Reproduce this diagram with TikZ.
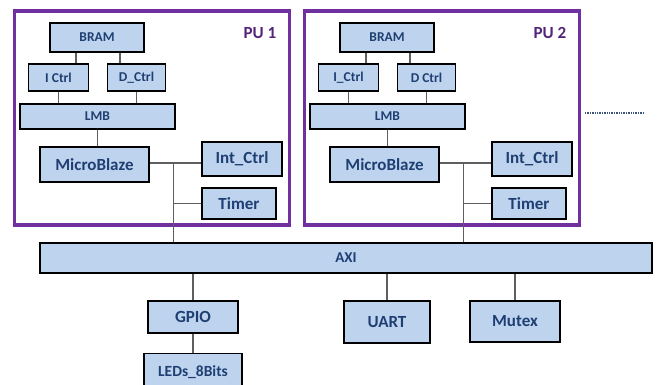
\documentclass[tikz,border=0pt]{standalone}
\usepackage{fontspec}
\setmainfont{Carlito}
\usetikzlibrary{positioning}
\definecolor{boxfill}{HTML}{BED4EE}
\definecolor{boxtext}{HTML}{1F3F73}
\definecolor{pupurple}{HTML}{7030A0}
\definecolor{wiregray}{HTML}{5F5F5F}

\begin{document}
\begin{tikzpicture}[x=1pt,y=-1pt]
  \tikzstyle{box}=[draw,line width=1.6pt,fill=boxfill,text=boxtext,inner sep=0pt]
  \tikzstyle{small}=[box,font=\fontsize{13.5}{14}\selectfont\bfseries]
  \tikzstyle{big}=[box,font=\fontsize{17}{18}\selectfont\bfseries]
  \tikzstyle{pu}=[draw=pupurple,line width=3.8pt]
  \tikzstyle{pulabel}=[text=pupurple!75!black,font=\fontsize{17}{18}\selectfont\bfseries]
  \tikzstyle{wire}=[draw=wiregray,line width=1.1pt]
  \clip (0,0) rectangle (659,385);
  % processing unit 1
  \draw[pu] (14.5,11.3) rectangle (289.5,225);
  \node[pulabel] (pu1) at (260,33) {PU 1};
  \node[small,minimum width=94pt,minimum height=29pt] (bram1) at (97,37.5) {BRAM};
  \node[small,minimum width=60pt,minimum height=27pt] (ic1) at (58.5,77.5) {I Ctrl};
  \node[small,minimum width=58pt,minimum height=27pt] (dc1) at (136.5,77.5) {D\_Ctrl};
  \node[small,minimum width=155pt,minimum height=25pt] (lmb1) at (97.5,116.5) {LMB};
  \node[big,minimum width=109pt,minimum height=35pt] (mb1) at (94.5,164.5) {MicroBlaze};
  \node[big,minimum width=80pt,minimum height=34pt] (int1) at (242,159) {Int\_Ctrl};
  \node[big,minimum width=74pt,minimum height=31pt] (tim1) at (239,203.5) {Timer};
  % processing unit 2
  \draw[pu] (304.5,11.3) rectangle (579.5,225);
  \node[pulabel] (pu2) at (550,33) {PU 2};
  \node[small,minimum width=94pt,minimum height=29pt] (bram2) at (387,37.5) {BRAM};
  \node[small,minimum width=60pt,minimum height=27pt] (ic2) at (348.5,77.5) {I\_Ctrl};
  \node[small,minimum width=58pt,minimum height=27pt] (dc2) at (426.5,77.5) {D Ctrl};
  \node[small,minimum width=155pt,minimum height=25pt] (lmb2) at (387.5,116.5) {LMB};
  \node[big,minimum width=109pt,minimum height=35pt] (mb2) at (384.5,164.5) {MicroBlaze};
  \node[big,minimum width=80pt,minimum height=34pt] (int2) at (532,159) {Int\_Ctrl};
  \node[big,minimum width=74pt,minimum height=31pt] (tim2) at (529,203.5) {Timer};
  \draw[densely dotted,draw=boxtext!70!gray,line width=1.4pt] (585,113) -- (643,113);
  % shared bus and peripherals
  \node[box,font=\fontsize{15}{16}\selectfont\bfseries,minimum width=612pt,minimum height=30pt] (axi) at (346,258) {AXI};
  \node[big,minimum width=90pt,minimum height=32pt] (gpio) at (193,317) {GPIO};
  \node[box,font=\fontsize{15.5}{16}\selectfont\bfseries,minimum width=98pt,minimum height=37pt] (leds) at (193,372) {LEDs\_8Bits};
  \node[big,minimum width=86pt,minimum height=42pt] (uart) at (387,322) {UART};
  \node[big,minimum width=90pt,minimum height=41pt] (mutex) at (515,321.5) {Mutex};
  % wires
  \draw[wire] ([xshift=-21pt]bram1.south) -- ([xshift=-21pt]bram1.south |- ic1.north);
  \draw[wire] ([xshift=23pt]bram1.south) -- ([xshift=23pt]bram1.south |- dc1.north);
  \draw[wire] (ic1.south) -- (ic1.south |- lmb1.north);
  \draw[wire] (dc1.south) -- (dc1.south |- lmb1.north);
  \draw[wire] (lmb1.south) -- (lmb1.south |- mb1.north);
  \draw[wire] ([yshift=1.5pt]mb1.east) -- ([yshift=1.5pt]mb1.east -| int1.west);
  \coordinate[right=24pt of mb1.east] (j1);
  \draw[wire] ([yshift=1.5pt]j1) -- (j1 |- axi.north);
  \draw[wire] (tim1.west) -- (tim1.west -| j1);
  \draw[wire] ([xshift=-21pt]bram2.south) -- ([xshift=-21pt]bram2.south |- ic2.north);
  \draw[wire] ([xshift=23pt]bram2.south) -- ([xshift=23pt]bram2.south |- dc2.north);
  \draw[wire] (ic2.south) -- (ic2.south |- lmb2.north);
  \draw[wire] (dc2.south) -- (dc2.south |- lmb2.north);
  \draw[wire] (lmb2.south) -- (lmb2.south |- mb2.north);
  \draw[wire] ([yshift=1.5pt]mb2.east) -- ([yshift=1.5pt]mb2.east -| int2.west);
  \coordinate[right=24pt of mb2.east] (j2);
  \draw[wire] ([yshift=1.5pt]j2) -- (j2 |- axi.north);
  \draw[wire] (tim2.west) -- (tim2.west -| j2);
  \draw[wire] (gpio.north) -- (gpio.north |- axi.south);
  \draw[wire] (gpio.south) -- (leds.north);
  \draw[wire] (uart.north) -- (uart.north |- axi.south);
  \draw[wire] (mutex.north) -- (mutex.north |- axi.south);
\end{tikzpicture}
\end{document}
